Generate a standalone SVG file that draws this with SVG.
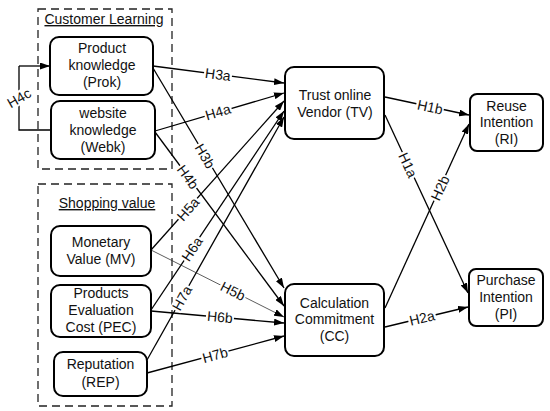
<svg xmlns="http://www.w3.org/2000/svg" width="550" height="411" viewBox="0 0 550 411">
<style>
text{font-family:"Liberation Sans",Arial,sans-serif;font-size:14px;fill:#111;text-anchor:middle}
.node rect{fill:#fff;stroke:#000;stroke-width:2}
.grp{fill:none;stroke:#222;stroke-width:1.3;stroke-dasharray:8 5}
.hdr{text-decoration:underline}
.c line,.c polyline{stroke:#000;stroke-width:1.3;fill:none;marker-end:url(#ah)}
.c .thin{stroke:#333;stroke-width:0.8}
.c .noarrow{marker-end:none}
.lb rect{fill:#fff;stroke:none}
</style>
<defs>
<marker id="ah" markerUnits="userSpaceOnUse" markerWidth="10" markerHeight="7" refX="10" refY="3.5" orient="auto">
<path d="M0,0 L10,3.5 L0,7 z" fill="#000"/>
</marker>
</defs>
<rect width="550" height="411" fill="#fff"/>

<g id="group-customer-learning">
<rect class="grp" x="38" y="9" width="134" height="160"/>
<text class="hdr" x="104" y="24">Customer Learning</text>
</g>
<g id="group-shopping-value">
<rect class="grp" x="38" y="184" width="134" height="222"/>
<text class="hdr" x="107" y="208">Shopping value</text>
</g>

<g id="connectors" class="c">
<polyline class="noarrow" points="51,130 19,130 19,66"/>
<line x1="19" y1="66" x2="50" y2="66"/>
<line x1="153" y1="66" x2="284" y2="83"/>
<line x1="155" y1="131" x2="284" y2="93"/>
<line x1="153" y1="68" x2="284" y2="288"/>
<line x1="155" y1="132" x2="284" y2="306"/>
<line x1="151" y1="250" x2="284" y2="101"/>
<line x1="151" y1="310" x2="284" y2="111"/>
<line x1="147" y1="360" x2="284" y2="117"/>
<line class="thin" x1="151" y1="250" x2="284" y2="317"/>
<line x1="151" y1="311" x2="284" y2="323"/>
<line x1="147" y1="373" x2="284" y2="336"/>
<line x1="385" y1="97" x2="469" y2="115"/>
<line x1="385" y1="115" x2="468" y2="293"/>
<line x1="385" y1="308" x2="469" y2="124"/>
<line x1="385" y1="327" x2="468" y2="307"/>
</g>

<g id="labels" class="lb">
<g transform="translate(19,98) rotate(-30)"><rect x="-14" y="-7" width="28" height="14"/><text y="5">H4c</text></g>
<g transform="translate(218,74.5) rotate(7.5)"><rect x="-14" y="-6" width="28" height="12"/><text y="5">H3a</text></g>
<g transform="translate(218,112) rotate(-16.5)"><rect x="-14" y="-6" width="28" height="12"/><text y="5">H4a</text></g>
<g transform="translate(205,156) rotate(59.3)"><rect x="-14" y="-6" width="28" height="12"/><text y="5">H3b</text></g>
<g transform="translate(188,177) rotate(53.7)"><rect x="-14" y="-6" width="28" height="12"/><text y="5">H4b</text></g>
<g transform="translate(188,209) rotate(-48.2)"><rect x="-14" y="-6" width="28" height="12"/><text y="5">H5a</text></g>
<g transform="translate(192,249) rotate(-56.2)"><rect x="-14" y="-6" width="28" height="12"/><text y="5">H6a</text></g>
<g transform="translate(182,298) rotate(-60.6)"><rect x="-14" y="-6" width="28" height="12"/><text y="5">H7a</text></g>
<g transform="translate(233,291) rotate(26.7)"><rect x="-14" y="-6" width="28" height="12"/><text y="5">H5b</text></g>
<g transform="translate(220,317) rotate(5.2)"><rect x="-14" y="-6" width="28" height="12"/><text y="5">H6b</text></g>
<g transform="translate(215,355) rotate(-15.1)"><rect x="-14" y="-6" width="28" height="12"/><text y="5">H7b</text></g>
<g transform="translate(430,107) rotate(12.2)"><rect x="-14" y="-6" width="28" height="12"/><text y="5">H1b</text></g>
<g transform="translate(408,165) rotate(65)"><rect x="-14" y="-6" width="28" height="12"/><text y="5">H1a</text></g>
<g transform="translate(440,188) rotate(-65.5)"><rect x="-14" y="-6" width="28" height="12"/><text y="5">H2b</text></g>
<g transform="translate(422,318) rotate(-13.5)"><rect x="-14" y="-6" width="28" height="12"/><text y="5">H2a</text></g>
</g>

<g id="node-prok" class="node">
<rect x="50" y="37" width="103" height="58" rx="9"/>
<text x="102" y="53">Product</text><text x="102" y="70">knowledge</text><text x="102" y="87">(Prok)</text>
</g>
<g id="node-webk" class="node">
<rect x="51" y="101" width="104" height="58" rx="9"/>
<text x="103" y="118">website</text><text x="103" y="135">knowledge</text><text x="103" y="152">(Webk)</text>
</g>
<g id="node-mv" class="node">
<rect x="51" y="226" width="100" height="50" rx="9"/>
<text x="101" y="247">Monetary</text><text x="101" y="264">Value (MV)</text>
</g>
<g id="node-pec" class="node">
<rect x="51" y="285" width="100" height="52" rx="9"/>
<text x="101" y="298">Products</text><text x="101" y="315">Evaluation</text><text x="101" y="332">Cost (PEC)</text>
</g>
<g id="node-rep" class="node">
<rect x="54" y="352" width="93" height="44" rx="9"/>
<text x="100.5" y="369">Reputation</text><text x="100.5" y="387">(REP)</text>
</g>
<g id="node-tv" class="node">
<rect x="285" y="67" width="99" height="72" rx="9"/>
<text x="335" y="100">Trust online</text><text x="335" y="117">Vendor (TV)</text>
</g>
<g id="node-cc" class="node">
<rect x="285" y="284" width="99" height="72" rx="9"/>
<text x="334.5" y="308">Calculation</text><text x="334.5" y="324">Commitment</text><text x="334.5" y="341">(CC)</text>
</g>
<g id="node-ri" class="node">
<rect x="470" y="94" width="73" height="57" rx="7"/>
<text x="506.5" y="111">Reuse</text><text x="506.5" y="127">Intention</text><text x="506.5" y="144">(RI)</text>
</g>
<g id="node-pi" class="node">
<rect x="469" y="269" width="74" height="57" rx="7"/>
<text x="506" y="285">Purchase</text><text x="506" y="302">Intention</text><text x="506" y="319">(PI)</text>
</g>
</svg>
